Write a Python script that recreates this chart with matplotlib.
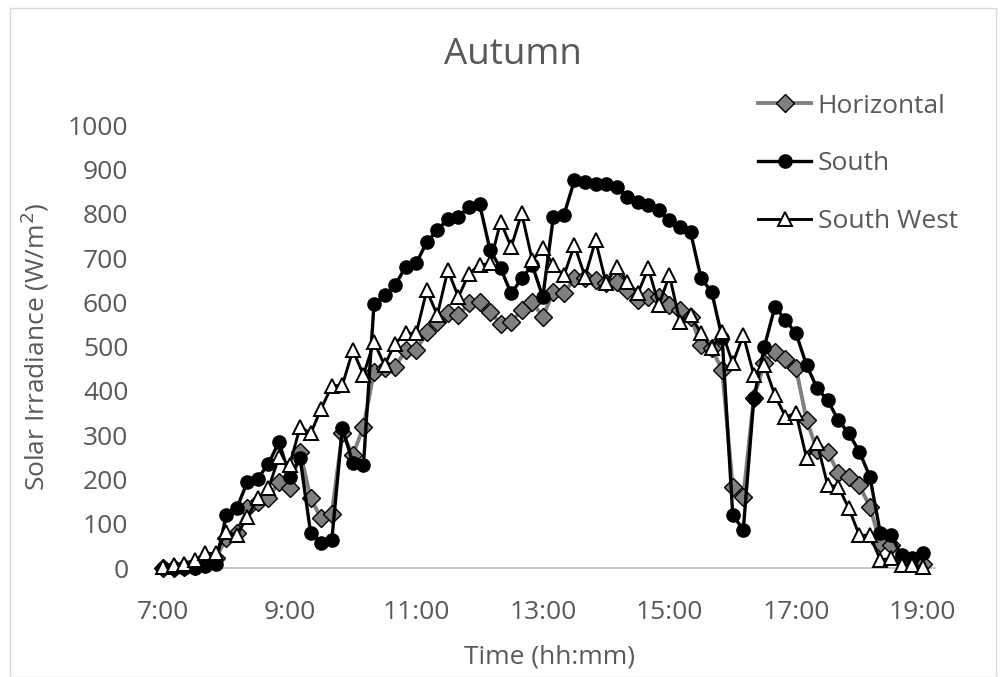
import matplotlib
matplotlib.use('Agg')
import matplotlib.pyplot as plt
import matplotlib.patches as mpatches
import numpy as np

# 10-minute readings from 7:00 to 19:00
minutes = np.arange(7 * 60, 19 * 60 + 1, 10)
hours = minutes / 60.0

horizontal = [0, 0, 2, 5, 18, 22, 68, 80, 135, 150, 158, 195, 180, 262, 157, 112, 123, 305, 255, 319,
              443, 451, 454, 492, 492, 533, 556, 575, 571, 598, 601, 579, 552, 556, 582, 601, 567, 624, 620, 654,
              654, 650, 643, 647, 627, 605, 612, 612, 594, 582, 567, 503, 496, 447, 184, 161, 385, 462, 488, 473,
              451, 334, 266, 263, 214, 206, 187, 138, 56, 52, 20, 15, 10]
south = [0, 0, 0, 0, 5, 10, 120, 135, 195, 202, 236, 285, 206, 248, 78, 56, 63, 316, 237, 232,
         597, 616, 639, 680, 688, 736, 763, 789, 793, 816, 823, 718, 677, 620, 654, 684, 612, 793, 797, 876,
         872, 868, 868, 861, 838, 827, 819, 808, 786, 770, 759, 654, 624, 520, 120, 86, 383, 500, 590, 560,
         530, 458, 406, 379, 334, 304, 263, 206, 78, 74, 29, 22, 33]
south_west = [3, 7, 10, 18, 33, 33, 82, 74, 116, 157, 180, 251, 232, 319, 304, 360, 411, 413, 492, 436,
              511, 458, 507, 530, 530, 627, 571, 673, 612, 665, 684, 688, 782, 725, 801, 695, 722, 684, 661, 729,
              658, 740, 643, 680, 647, 620, 677, 594, 661, 556, 571, 530, 496, 533, 462, 526, 436, 458, 390, 342,
              349, 248, 282, 187, 184, 135, 74, 74, 18, 22, 7, 7, 3]

tick_hours = [7, 9, 11, 13, 15, 17, 19]
y_ticks = list(range(0, 1001, 100))

FONT = 'Open Sans'
TXT = '#595959'

fig = plt.figure(figsize=(10.03, 6.77), dpi=100)
fig.patch.set_facecolor('white')
ax = fig.add_axes([0.1625, 0.161, 0.770, 0.654])

ax.plot(hours, horizontal, color='#7f7f7f', lw=2.8, marker='D', markersize=9,
        markerfacecolor='#7f7f7f', markeredgecolor='black', markeredgewidth=1.0,
        label='Horizontal', clip_on=False, zorder=3)
ax.plot(hours, south, color='black', lw=2.4, marker='o', markersize=9.5,
        markerfacecolor='black', markeredgecolor='black', label='South',
        clip_on=False, zorder=4)
ax.plot(hours, south_west, color='black', lw=2.1, marker='^', markersize=9.5,
        markerfacecolor='white', markeredgecolor='black', markeredgewidth=1.4,
        label='South West', clip_on=False, zorder=5)

ax.set_xlim(7, 19.2)
ax.set_ylim(0, 1000)
ax.set_xticks(tick_hours)
ax.set_xticklabels([f'{h}:00' for h in tick_hours])
ax.set_yticks(y_ticks)
ax.tick_params(length=0, labelsize=19, labelcolor=TXT)
ax.tick_params(axis='y', pad=25)
ax.tick_params(axis='x', pad=23)
for lab in ax.get_xticklabels() + ax.get_yticklabels():
    lab.set_fontfamily(FONT)

for side in ['top', 'right', 'left']:
    ax.spines[side].set_visible(False)
ax.spines['bottom'].set_color('#bfbfbf')
ax.spines['bottom'].set_linewidth(1.2)

ax.set_xlabel('Time (hh:mm)', fontsize=19, color=TXT, family=FONT, labelpad=14)
ax.set_ylabel('Solar Irradiance (W/m$^2$)', fontsize=19, color=TXT, family=FONT, labelpad=12)

fig.text(0.511, 0.919, 'Autumn', fontsize=26.5, color=TXT, family=FONT, ha='center', va='center')

leg = ax.legend(loc='upper left', bbox_to_anchor=(0.740, 1.125), frameon=False,
                prop={'family': FONT, 'size': 19}, labelcolor=TXT,
                handlelength=2.0, handletextpad=0.25, labelspacing=1.24)

# chart area border
fig.add_artist(mpatches.Rectangle((0.010, 0.0), 0.983, 0.988, transform=fig.transFigure,
                                  fill=False, edgecolor='#d9d9d9', linewidth=1.0))

plt.savefig('out.png', dpi=100, facecolor=fig.get_facecolor())
plt.close()
